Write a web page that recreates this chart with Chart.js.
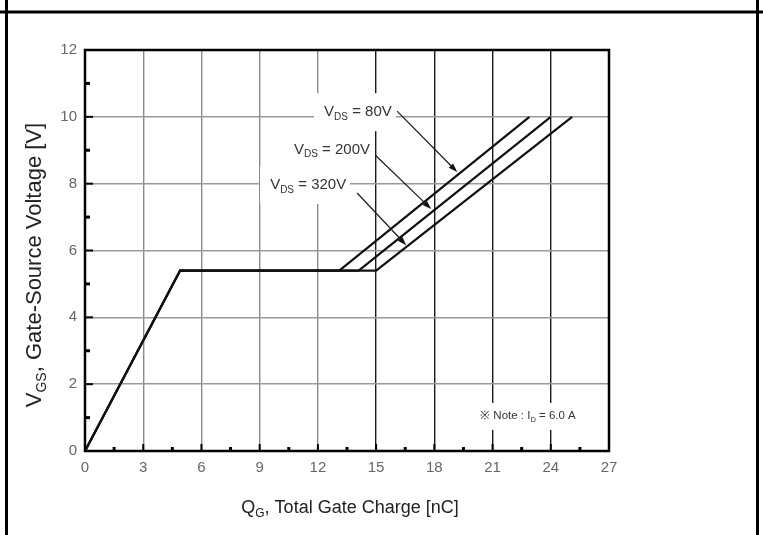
<!DOCTYPE html>
<html>
<head>
<meta charset="utf-8">
<script src="https://cdn.jsdelivr.net/npm/chart.js@4"></script>
<style>
  html, body { margin: 0; padding: 0; background: #fff; }
  canvas { display: block; }
</style>
</head>
<body>
<canvas id="gateChart" width="763" height="535"></canvas>
<script>
// ===== data =====
const vdsLabels = ['80V', '200V', '320V'];

const charge80 = [0, 4.9, 13.1, 22.9];
const vgs80 = [0, 5.4, 5.4, 10];

const charge200 = [0, 4.9, 14.1, 24.0];
const vgs200 = [0, 5.4, 5.4, 10];

const charge320 = [0, 4.9, 15.0, 25.1];
const vgs320 = [0, 5.4, 5.4, 10];

const xTicks = [0, 3, 6, 9, 12, 15, 18, 21, 24, 27];
const yTicks = [0, 2, 4, 6, 8, 10, 12];

const noteCurrent = '6.0 A';

const toPoints = (xs, ys) => xs.map((x, i) => ({ x: x, y: ys[i] }));

const SANS = "'Liberation Sans', Arial, sans-serif";
const NARROW = "'Liberation Sans Narrow', 'Liberation Sans', Arial, sans-serif";

// text with subscript parts: [[text, isSub], ...]
function richWidth(ctx, parts, size, subSize) {
  let w = 0;
  parts.forEach(p => {
    ctx.font = (p[1] ? subSize : size) + 'px ' + SANS;
    w += ctx.measureText(p[0]).width;
  });
  return w;
}

function drawRich(ctx, x, y, parts, size, subSize) {
  let cx = x;
  ctx.textBaseline = 'middle';
  ctx.textAlign = 'left';
  parts.forEach(p => {
    ctx.font = (p[1] ? subSize : size) + 'px ' + SANS;
    ctx.fillText(p[0], cx, p[1] ? y + size * 0.32 : y);
    cx += ctx.measureText(p[0]).width;
  });
}

function arrow(ctx, x1, y1, x2, y2) {
  const a = Math.atan2(y2 - y1, x2 - x1);
  ctx.beginPath();
  ctx.moveTo(x1, y1);
  ctx.lineTo(x2 - 6 * Math.cos(a), y2 - 6 * Math.sin(a));
  ctx.stroke();
  ctx.beginPath();
  ctx.moveTo(x2, y2);
  ctx.lineTo(x2 - 9 * Math.cos(a) + 3 * Math.sin(a), y2 - 9 * Math.sin(a) - 3 * Math.cos(a));
  ctx.lineTo(x2 - 9 * Math.cos(a) - 3 * Math.sin(a), y2 - 9 * Math.sin(a) + 3 * Math.cos(a));
  ctx.closePath();
  ctx.fill();
}

// callouts in data units (label left edge / middle, arrow start, arrow tip)
const callouts = [
  { label: vdsLabels[0], at: [12.32, 10.14], from: [16.08, 10.17], to: [19.18, 8.35] },
  { label: vdsLabels[1], at: [10.77, 9.01], from: [14.95, 8.86], to: [17.84, 7.24] },
  { label: vdsLabels[2], at: [9.54, 7.96], from: [14.02, 7.72], to: [16.55, 6.16] }
];

const notePos = [20.36, 1.05];
const noteParts = [['\u203B Note : I', false], ['D', true], [' = ' + noteCurrent, false]];

const sheetPlugin = {
  id: 'sheet',
  beforeDraw(chart) {
    const ctx = chart.ctx;
    ctx.save();
    ctx.fillStyle = '#fff';
    ctx.fillRect(0, 0, chart.width, chart.height);
    // table frame round the figure
    ctx.strokeStyle = '#000';
    ctx.lineWidth = 3;
    ctx.beginPath();
    ctx.moveTo(0, 12); ctx.lineTo(chart.width, 12);
    ctx.moveTo(6.5, 0); ctx.lineTo(6.5, chart.height);
    ctx.moveTo(757.5, 0); ctx.lineTo(757.5, chart.height);
    ctx.stroke();
    ctx.restore();
  },
  beforeDatasetsDraw(chart) {
    const ctx = chart.ctx;
    const xs = chart.scales.x, ys = chart.scales.y;
    ctx.save();
    ctx.fillStyle = '#fff';
    callouts.forEach(c => {
      const parts = [['V', false], ['DS', true], [' = ' + c.label, false]];
      const w = richWidth(ctx, parts, 15, 10);
      const x = xs.getPixelForValue(c.at[0]);
      const y = ys.getPixelForValue(c.at[1]);
      ctx.fillRect(x - 10, y - 19, w + 14, 38);
    });
    const nw = richWidth(ctx, noteParts, 11.5, 7.5);
    const nx = xs.getPixelForValue(notePos[0]);
    const ny = ys.getPixelForValue(notePos[1]);
    ctx.fillRect(nx - 3, ny - 13, nw + 6, 27);
    ctx.restore();
  },
  afterDatasetsDraw(chart) {
    const ctx = chart.ctx;
    const a = chart.chartArea;
    const xs = chart.scales.x, ys = chart.scales.y;
    ctx.save();
    ctx.strokeStyle = '#000';
    ctx.fillStyle = '#000';

    // inward ticks
    for (let v = 1.5; v < 27; v += 1.5) {
      const px = xs.getPixelForValue(v);
      const major = v % 3 === 0;
      ctx.lineWidth = major ? 2 : 3;
      ctx.beginPath();
      ctx.moveTo(px, a.bottom);
      ctx.lineTo(px, a.bottom - (major ? 7 : 4));
      ctx.stroke();
    }
    for (let v = 1; v < 12; v += 1) {
      const py = ys.getPixelForValue(v);
      const major = v % 2 === 0;
      ctx.lineWidth = major ? 2 : 3;
      ctx.beginPath();
      ctx.moveTo(a.left, py);
      ctx.lineTo(a.left + (major ? 8 : 5), py);
      ctx.stroke();
    }

    // plot frame
    ctx.lineWidth = 2.5;
    ctx.strokeRect(a.left, a.top, a.right - a.left, a.bottom - a.top);

    // callouts
    ctx.fillStyle = '#333';
    ctx.strokeStyle = '#222';
    ctx.lineWidth = 1.3;
    callouts.forEach(c => {
      const parts = [['V', false], ['DS', true], [' = ' + c.label, false]];
      drawRich(ctx, xs.getPixelForValue(c.at[0]), ys.getPixelForValue(c.at[1]), parts, 15, 10);
      ctx.fillStyle = '#111';
      arrow(ctx, xs.getPixelForValue(c.from[0]), ys.getPixelForValue(c.from[1]),
        xs.getPixelForValue(c.to[0]), ys.getPixelForValue(c.to[1]));
      ctx.fillStyle = '#333';
    });

    // note
    drawRich(ctx, xs.getPixelForValue(notePos[0]), ys.getPixelForValue(notePos[1]),
      noteParts, 11.5, 7.5);

    // axis titles
    ctx.fillStyle = '#222';
    const xParts = [['Q', false], ['G', true], [', Total Gate Charge [nC]', false]];
    const xw = richWidth(ctx, xParts, 18, 12);
    drawRich(ctx, 350 - xw / 2, 508, xParts, 18, 12);

    const yParts = [['V', false], ['GS', true], [', Gate-Source Voltage [V]', false]];
    const yw = richWidth(ctx, yParts, 22, 14);
    ctx.translate(35, 265);
    ctx.rotate(-Math.PI / 2);
    drawRich(ctx, -yw / 2, 0, yParts, 22, 14);
    ctx.restore();
  }
};

const gateChart = document.getElementById('gateChart');

new Chart(gateChart, {
  type: 'scatter',

  data: {
    datasets: [
      { label: 'VDS = ' + vdsLabels[0], data: toPoints(charge80, vgs80) },
      { label: 'VDS = ' + vdsLabels[1], data: toPoints(charge200, vgs200) },
      { label: 'VDS = ' + vdsLabels[2], data: toPoints(charge320, vgs320) }
    ].map(d => Object.assign(d, {
      showLine: true,
      borderColor: '#111',
      borderWidth: 2.2,
      pointRadius: 0,
      tension: 0
    }))
  },

  options: {
    responsive: false,
    animation: false,
    layout: {
      padding: { left: 0, top: 50, right: 154, bottom: 0 }
    },

    scales: {
      x: {
        type: 'linear',
        min: xTicks[0],
        max: xTicks[xTicks.length - 1],
        afterBuildTicks: s => { s.ticks = xTicks.map(v => ({ value: v })); },
        afterFit: s => { s.height = 84; },
        border: { display: false },
        grid: {
          drawTicks: false,
          lineWidth: 1.4,
          color: c => (c.tick && c.tick.value >= 15 ? '#1a1a1a' : '#8a8a8a')
        },
        ticks: {
          padding: 8,
          color: '#666',
          font: { family: NARROW, size: 15 }
        }
      },

      y: {
        min: yTicks[0],
        max: yTicks[yTicks.length - 1],
        afterBuildTicks: s => { s.ticks = yTicks.map(v => ({ value: v })); },
        afterFit: s => { s.width = 85; },
        border: { display: false },
        grid: {
          drawTicks: false,
          lineWidth: 1.4,
          color: '#999'
        },
        ticks: {
          padding: 8,
          color: '#666',
          font: { family: NARROW, size: 15 }
        }
      }
    },

    plugins: {
      legend: { display: false },
      tooltip: { enabled: false }
    }
  },

  plugins: [sheetPlugin]
});
</script>
</body>
</html>
